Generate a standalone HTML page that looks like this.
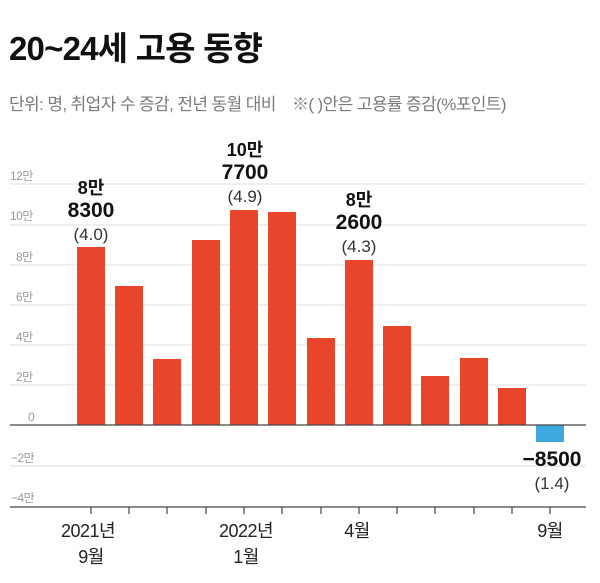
<!DOCTYPE html>
<html><head><meta charset="utf-8"><style>
body{margin:0;background:#fff;width:600px;height:583px;overflow:hidden}
svg{display:block}
text{font-family:"Liberation Sans","Noto Sans CJK KR",sans-serif}
</style></head><body>
<svg width="600" height="583" viewBox="0 0 600 583">
<text x="9" y="60" font-size="33" font-weight="bold" fill="#111" letter-spacing="-0.8">20~24세 고용 동향</text>
<text x="9" y="110" font-size="17" fill="#7a7a7a" letter-spacing="-0.6">단위: 명, 취업자 수 증감, 전년 동월 대비 <tspan dx="12">※( )안은 고용률 증감(%포인트)</tspan></text>
<g stroke="#dcdcdc" stroke-width="1">
<line x1="10" x2="586" y1="184" y2="184"/><line x1="10" x2="586" y1="225" y2="225"/>
<line x1="10" x2="586" y1="265" y2="265"/><line x1="10" x2="586" y1="305" y2="305"/>
<line x1="10" x2="586" y1="345" y2="345"/><line x1="10" x2="586" y1="385" y2="385"/>
<line x1="10" x2="586" y1="466" y2="466"/>
</g>
<g font-size="12" fill="#999" letter-spacing="-0.5">
<text x="10" y="180">12만</text><text x="10" y="220">10만</text><text x="16" y="261">8만</text>
<text x="16" y="301">6만</text><text x="16" y="341">4만</text><text x="16" y="381">2만</text>
<text x="28" y="421">0</text><text x="11" y="462">−2만</text><text x="11" y="502">−4만</text>
</g>
<g fill="#e8452a">
<rect x="77" y="247" width="28" height="178"/>
<rect x="115" y="286" width="28" height="139"/>
<rect x="153" y="359" width="28" height="66"/>
<rect x="192" y="240" width="28" height="185"/>
<rect x="230" y="210" width="28" height="215"/>
<rect x="268" y="212" width="28" height="213"/>
<rect x="307" y="338" width="28" height="87"/>
<rect x="345" y="260" width="28" height="165"/>
<rect x="383" y="326" width="28" height="99"/>
<rect x="421" y="376" width="28" height="49"/>
<rect x="460" y="358" width="28" height="67"/>
<rect x="498" y="388" width="28" height="37"/>
</g>
<rect x="536" y="425" width="28" height="17" fill="#3ea9de"/>
<line x1="10" x2="586" y1="425" y2="425" stroke="#444" stroke-width="1.2"/>
<line x1="10" x2="586" y1="507" y2="507" stroke="#444" stroke-width="1.2"/>
<g stroke="#444" stroke-width="1.2">
<line x1="91" x2="91" y1="507" y2="514"/><line x1="129" x2="129" y1="507" y2="514"/>
<line x1="167" x2="167" y1="507" y2="514"/><line x1="206" x2="206" y1="507" y2="514"/>
<line x1="244" x2="244" y1="507" y2="514"/><line x1="282" x2="282" y1="507" y2="514"/>
<line x1="321" x2="321" y1="507" y2="514"/><line x1="359" x2="359" y1="507" y2="514"/>
<line x1="397" x2="397" y1="507" y2="514"/><line x1="435" x2="435" y1="507" y2="514"/>
<line x1="474" x2="474" y1="507" y2="514"/><line x1="512" x2="512" y1="507" y2="514"/>
<line x1="550" x2="550" y1="507" y2="514"/>
</g>
<g font-size="18" fill="#222" text-anchor="middle" letter-spacing="-0.5">
<text x="88" y="537">2021년</text><text x="91" y="563">9월</text>
<text x="246" y="537">2022년</text><text x="246" y="563">1월</text>
<text x="357" y="537">4월</text><text x="550" y="537">9월</text>
</g>
<g text-anchor="middle" fill="#111">
<text x="91" y="194" font-size="18" font-weight="bold">8만</text>
<text x="91" y="217" font-size="21" font-weight="bold">8300</text>
<text x="91" y="240" font-size="17" fill="#333">(4.0)</text>
<text x="245" y="156" font-size="18" font-weight="bold">10만</text>
<text x="245" y="179" font-size="21" font-weight="bold">7700</text>
<text x="245" y="202" font-size="17" fill="#333">(4.9)</text>
<text x="359" y="206" font-size="18" font-weight="bold">8만</text>
<text x="359" y="229" font-size="21" font-weight="bold">2600</text>
<text x="359" y="252" font-size="17" fill="#333">(4.3)</text>
<text x="552" y="466" font-size="21" font-weight="bold">−8500</text>
<text x="552" y="489" font-size="17" fill="#333">(1.4)</text>
</g>
</svg>
</body></html>
